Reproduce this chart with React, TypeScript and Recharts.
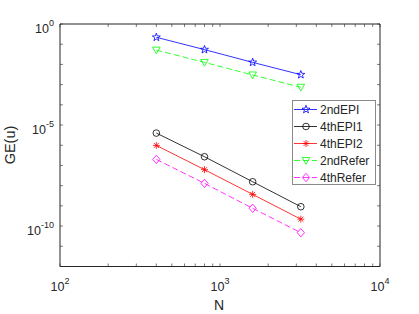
import { Legend, Line, LineChart, XAxis, YAxis } from "recharts"

const nValues = [400, 800, 1600, 3200]
const epi2nd = [0.22, 0.054, 0.0126, 0.0031]
const epi4th1 = [4.0e-6, 2.7e-7, 1.56e-8, 9.1e-10]
const epi4th2 = [9.8e-7, 6.2e-8, 3.7e-9, 2.2e-10]
const refer2nd = [0.051, 0.0126, 0.003, 7.4e-4]
const refer4th = [2.0e-7, 1.3e-8, 7.6e-10, 4.7e-11]

const xTicks = [100, 200, 300, 400, 500, 600, 700, 800, 900, 1000, 2000, 3000, 4000, 5000, 6000, 7000, 8000, 9000, 10000]
const xLabels: Record<number, string> = { 100: "2", 1000: "3", 10000: "4" }
const yTicks = [1e-12, 1e-11, 1e-10, 1e-9, 1e-8, 1e-7, 1e-6, 1e-5, 1e-4, 1e-3, 1e-2, 1e-1, 1]
const yLabels: Record<string, string> = { "1": "0", "0.00001": "-5", "1e-10": "-10" }

const series = [
  { key: "epi2", name: "2ndEPI", values: epi2nd, color: "#0000ff", dash: undefined, shape: "star" },
  { key: "epi41", name: "4thEPI1", values: epi4th1, color: "#000000", dash: undefined, shape: "circle" },
  { key: "epi42", name: "4thEPI2", values: epi4th2, color: "#ff0000", dash: undefined, shape: "asterisk" },
  { key: "ref2", name: "2ndRefer", values: refer2nd, color: "#00ff00", dash: "6 3", shape: "triangle" },
  { key: "ref4", name: "4thRefer", values: refer4th, color: "#ff00ff", dash: "6 3", shape: "diamond" },
]

const data = nValues.map((n, i) => {
  const row: Record<string, number> = { n }
  series.forEach((s) => (row[s.key] = s.values[i]))
  return row
})

const font = "'Liberation Sans', Arial, Helvetica, sans-serif"
const axisColor = "#262626"

function Marker({ shape, x, y, color }: { shape: string; x: number; y: number; color: string }) {
  const sw = 0.8
  if (shape === "circle") {
    return <circle cx={x} cy={y} r={3.3} fill="none" stroke={color} strokeWidth={sw} />
  }
  if (shape === "star") {
    const pts: string[] = []
    for (let k = 0; k < 10; k++) {
      const r = k % 2 === 0 ? 4.2 : 1.7
      const a = -Math.PI / 2 + (k * Math.PI) / 5
      pts.push(`${x + r * Math.cos(a)},${y + r * Math.sin(a)}`)
    }
    return <polygon points={pts.join(" ")} fill="none" stroke={color} strokeWidth={sw} />
  }
  if (shape === "asterisk") {
    const r = 3.5
    const d = r * 0.707
    return (
      <g stroke={color} strokeWidth={sw}>
        <line x1={x - r} y1={y} x2={x + r} y2={y} />
        <line x1={x} y1={y - r} x2={x} y2={y + r} />
        <line x1={x - d} y1={y - d} x2={x + d} y2={y + d} />
        <line x1={x - d} y1={y + d} x2={x + d} y2={y - d} />
      </g>
    )
  }
  if (shape === "triangle") {
    return (
      <polygon
        points={`${x - 3.8},${y - 3} ${x + 3.8},${y - 3} ${x},${y + 3.8}`}
        fill="none"
        stroke={color}
        strokeWidth={sw}
      />
    )
  }
  return (
    <polygon
      points={`${x},${y - 4.2} ${x + 3.6},${y} ${x},${y + 4.2} ${x - 3.6},${y}`}
      fill="none"
      stroke={color}
      strokeWidth={sw}
    />
  )
}

const makeDot = (shape: string, color: string) => (props: any) => (
  <Marker key={`${shape}-${props.index}`} shape={shape} x={props.cx} y={props.cy} color={color} />
)

const makeTick = (side: "bottom" | "top" | "left" | "right") => (props: any) => {
  const { x, y, payload } = props
  const v = payload.value
  const len = 3
  if (side === "bottom" || side === "top") {
    const dir = side === "bottom" ? -1 : 1
    const exp = side === "bottom" ? xLabels[v] : undefined
    return (
      <g>
        <line x1={x} y1={y} x2={x} y2={y + dir * len} stroke={axisColor} strokeWidth={0.6} />
        {exp && (
          <text x={x} y={y + 24} textAnchor="middle" fontFamily={font} fontSize={12.5} fill={axisColor}>
            10
            <tspan dy={-7} fontSize={9}>
              {exp}
            </tspan>
          </text>
        )}
      </g>
    )
  }
  const dir = side === "left" ? 1 : -1
  const exp = side === "left" ? yLabels[String(v)] : undefined
  return (
    <g>
      <line x1={x} y1={y} x2={x + dir * len} y2={y} stroke={axisColor} strokeWidth={0.6} />
      {exp && (
        <text x={x - 6} y={y + 8.5} textAnchor="end" fontFamily={font} fontSize={12.5} fill={axisColor}>
          10
          <tspan dy={-7} fontSize={9}>
            {exp}
          </tspan>
        </text>
      )}
    </g>
  )
}

function LegendBox() {
  const w = 84
  const h = 85
  return (
    <svg width={w} height={h} style={{ display: "block" }}>
      <rect x={0.5} y={0.5} width={w - 1} height={h - 1} fill="#ffffff" stroke="#8a8a8a" strokeWidth={1} />
      {series.map((s, i) => {
        const cy = 9.5 + i * 17
        return (
          <g key={s.key}>
            <line x1={2} y1={cy} x2={25} y2={cy} stroke={s.color} strokeWidth={0.8} strokeDasharray={s.dash} />
            <Marker shape={s.shape} x={14} y={cy} color={s.color} />
            <text x={28} y={cy + 4.3} fontFamily={font} fontSize={12} fill={axisColor}>
              {s.name}
            </text>
          </g>
        )
      })}
    </svg>
  )
}

const axisCommon = {
  type: "number" as const,
  scale: "log" as const,
  interval: 0,
  tickSize: 0,
  tickMargin: 0,
  stroke: axisColor,
  allowDataOverflow: true,
}

export default function App() {
  return (
    <div style={{ position: "absolute", left: 0, top: 0, width: 419, height: 314, background: "#fff" }}>
      <LineChart width={419} height={314} data={data} margin={{ top: 0, right: 0, bottom: 0, left: 0 }}>
        <XAxis
          {...axisCommon}
          xAxisId="b"
          dataKey="n"
          domain={[100, 10000]}
          ticks={xTicks}
          height={47.5}
          tick={makeTick("bottom")}
        />
        <XAxis
          {...axisCommon}
          xAxisId="t"
          orientation="top"
          dataKey="n"
          domain={[100, 10000]}
          ticks={xTicks}
          height={24}
          tick={makeTick("top")}
        />
        <YAxis
          {...axisCommon}
          yAxisId="l"
          domain={[1e-12, 1]}
          ticks={yTicks}
          width={60}
          tick={makeTick("left")}
        />
        <YAxis
          {...axisCommon}
          yAxisId="r"
          orientation="right"
          domain={[1e-12, 1]}
          ticks={yTicks}
          width={39}
          tick={makeTick("right")}
        />
        {series.map((s) => (
          <Line
            key={s.key}
            xAxisId="b"
            yAxisId="l"
            dataKey={s.key}
            name={s.name}
            stroke={s.color}
            strokeWidth={0.8}
            strokeDasharray={s.dash}
            dot={makeDot(s.shape, s.color)}
            activeDot={false}
            isAnimationActive={false}
          />
        ))}
        <Legend
          layout="horizontal"
          align="center"
          verticalAlign="middle"
          content={() => <LegendBox />}
          wrapperStyle={{ position: "absolute", left: 292, top: 100, width: 84, height: 85 }}
        />
      </LineChart>
      <div
        style={{
          position: "absolute",
          left: 0,
          top: 0,
          width: 419,
          height: 314,
          pointerEvents: "none",
        }}
      >
        <svg width={419} height={314}>
          <text x={219} y={310} textAnchor="middle" fontFamily={font} fontSize={14} fill={axisColor}>
            N
          </text>
          <text
            x={15}
            y={145}
            textAnchor="middle"
            fontFamily={font}
            fontSize={14.5}
            fill={axisColor}
            transform="rotate(-90 15 145)"
          >
            GE(u)
          </text>
        </svg>
      </div>
    </div>
  )
}
